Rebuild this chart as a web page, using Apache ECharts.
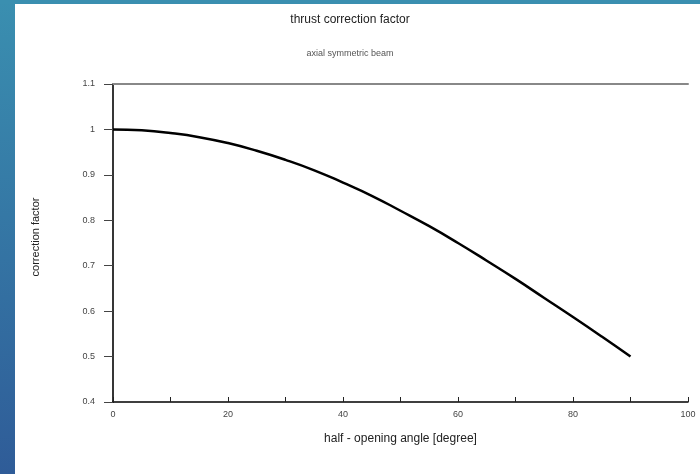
<!DOCTYPE html>
<html>
<head>
<meta charset="utf-8">
<script src="https://cdn.jsdelivr.net/npm/echarts@6/dist/echarts.min.js"></script>
<style>
  html, body { margin: 0; padding: 0; background: #fff; }
  #chart { width: 700px; height: 474px; }
</style>
</head>
<body>
<div id="chart"></div>
<script>
// half-opening angle in degrees
const angles = [0, 5, 10, 15, 20, 25, 30, 35, 40, 45, 50, 55, 60, 65, 70, 75, 80, 85, 90];
// thrust correction factor for each angle
const factors = [1.000, 0.998, 0.992, 0.983, 0.970, 0.953, 0.933, 0.910, 0.883, 0.854,
                 0.821, 0.787, 0.750, 0.711, 0.671, 0.629, 0.587, 0.544, 0.500];

const titleText = 'thrust correction factor';
const subtitleText = 'axial symmetric beam';
const xAxisName = 'half - opening angle [degree]';
const yAxisName = 'correction factor';

const chart = echarts.init(document.getElementById('chart'), null, { renderer: 'canvas' });
const font = 'Liberation Sans, Arial, sans-serif';
const frameGrad = new echarts.graphic.LinearGradient(0, 0, 0, 1, [
  { offset: 0, color: '#3a8fb0' },
  { offset: 1, color: '#2f5c98' }
]);

chart.setOption({
  animation: false,
  backgroundColor: '#fff',
  textStyle: { fontFamily: font },
  title: [
    { text: titleText, left: 'center', top: 9,
      textStyle: { fontSize: 12, fontWeight: 'normal', color: '#222', fontFamily: font } },
    { text: subtitleText, left: 'center', top: 44,
      textStyle: { fontSize: 9, fontWeight: 'normal', color: '#555', fontFamily: font } }
  ],
  graphic: [
    { type: 'rect', left: 0, top: 0, shape: { width: 15, height: 474 }, style: { fill: frameGrad }, silent: true },
    { type: 'rect', left: 0, top: 0, shape: { width: 700, height: 4 }, style: { fill: '#3a8fb0' }, silent: true },
    { type: 'text', left: 30, top: 'middle', rotation: Math.PI / 2,
      style: { text: yAxisName, fontSize: 11, fill: '#222', fontFamily: font } }
  ],
  grid: { left: 113, top: 84, right: 12, bottom: 72 },
  xAxis: [
    {
      type: 'value', min: 0, max: 100, interval: 10,
      name: xAxisName, nameLocation: 'middle', nameGap: 31,
      nameTextStyle: { fontSize: 12, color: '#222', fontFamily: font },
      axisLine: { show: true, lineStyle: { color: '#000', width: 1.5 } },
      axisTick: { show: true, inside: true, length: 5, lineStyle: { color: '#222' } },
      axisLabel: { fontSize: 9, color: '#444', margin: 8,
        formatter: v => (v % 20 === 0 ? String(v) : '') },
      splitLine: { show: false }
    },
    {
      type: 'value', min: 0, max: 100, position: 'top',
      axisLine: { show: true, lineStyle: { color: '#888', width: 2 } },
      axisTick: { show: false }, axisLabel: { show: false }, splitLine: { show: false }
    }
  ],
  yAxis: [
    {
      type: 'value', min: 0.4, max: 1.1, interval: 0.1,
      axisLine: { show: true, lineStyle: { color: '#000', width: 1.5 } },
      axisTick: { show: true, inside: false, length: 9, lineStyle: { color: '#444' } },
      axisLabel: { fontSize: 9, color: '#444', margin: 18,
        formatter: v => (Math.abs(v - 1) < 1e-9 ? '1' : v.toFixed(1)) },
      splitLine: { show: false }
    },
    {
      type: 'value', min: 0.4, max: 1.1, position: 'right',
      axisLine: { show: true, lineStyle: { color: '#333', width: 1.5 } },
      axisTick: { show: false }, axisLabel: { show: false }, splitLine: { show: false }
    }
  ],
  series: [{
    type: 'line',
    data: angles.map((a, i) => [a, factors[i]]),
    smooth: true,
    showSymbol: false,
    lineStyle: { color: '#000', width: 2.5 }
  }]
});
</script>
</body>
</html>
